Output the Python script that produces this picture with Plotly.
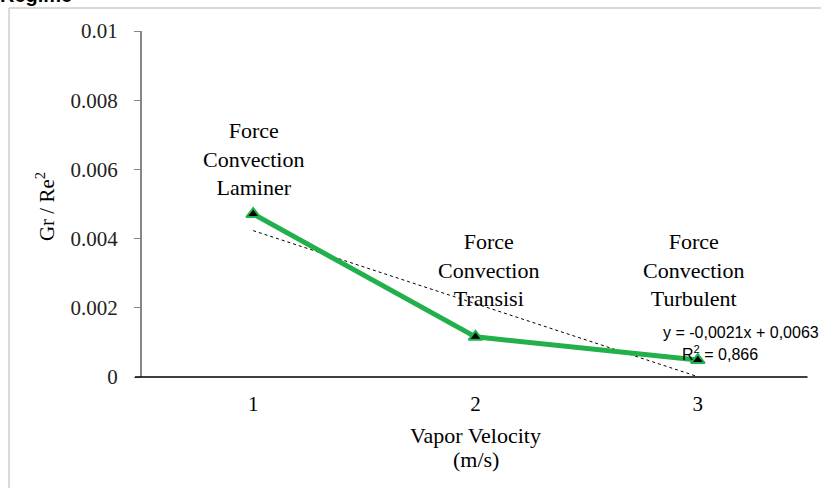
import numpy as np
import plotly.graph_objects as go

# ---- data ----
velocity = [1, 2, 3]
gr_re2 = [0.00471, 0.00116, 0.00049]
y_tick_vals = [0, 0.002, 0.004, 0.006, 0.008, 0.01]
y_tick_text = ["0", "0.002", "0.004", "0.006", "0.008", "0.01"]
x_tick_vals = [1, 2, 3]
x_tick_text = ["1", "2", "3"]
regime_labels = ["Force<br>Convection<br>Laminer",
                 "Force<br>Convection<br>Transisi",
                 "Force<br>Convection<br>Turbulent"]
regime_label_x = [1.0, 2.06, 2.98]
regime_label_y = [0.0063, 0.00309, 0.00309]
equation_text = "y = -0,0021x + 0,0063"
r2_text = "R<sup>2</sup> = 0,866"
x_title_lines = ["Vapor Velocity", "(m/s)"]
y_title = "Gr / Re<sup>2</sup>"

# linear trendline (least squares from the data)
slope, intercept = np.polyfit(velocity, gr_re2, 1)
trend_x = [velocity[0], velocity[-1]]
trend_y = [slope * v + intercept for v in trend_x]

W, H = 821, 488
L, R, T, B = 142, 11.5, 31, 111
PW, PH = W - L - R, H - T - B

def px(x):
    return (x - L) / PW

def py(y):
    return 1 - (y - T) / PH

SERIF = "Liberation Serif, Times New Roman, serif"
SANS = "Liberation Sans, Arial, sans-serif"
GREEN = "#22b04c"

fig = go.Figure()
fig.add_trace(go.Scatter(
    x=trend_x, y=trend_y, mode="lines",
    line=dict(color="black", width=1, dash="3px,3px"),
    hoverinfo="skip", showlegend=False))
fig.add_trace(go.Scatter(
    x=velocity, y=gr_re2, mode="lines+markers",
    line=dict(color=GREEN, width=5),
    marker=dict(symbol="triangle-up", size=12, color="black",
                line=dict(color=GREEN, width=2)),
    showlegend=False))

annotations = []
for t, xv, yv in zip(regime_labels, regime_label_x, regime_label_y):
    annotations.append(dict(x=xv, y=yv, xref="x", yref="y", text=t,
                            showarrow=False, align="center",
                            xanchor="center", yanchor="middle",
                            font=dict(family=SERIF, size=22, color="black")))
for t, yy in zip(x_title_lines, [435, 459]):
    annotations.append(dict(x=px(476), y=py(yy), xref="paper", yref="paper", text=t,
                            showarrow=False, xanchor="center", yanchor="middle",
                            font=dict(family=SERIF, size=22, color="black")))
annotations += [
    dict(x=px(661), y=py(332), xref="paper", yref="paper", text=equation_text,
         xanchor="left", yanchor="middle", showarrow=False,
         font=dict(family=SANS, size=16, color="black")),
    dict(x=px(680), y=py(353), xref="paper", yref="paper", text=r2_text,
         xanchor="left", yanchor="middle", showarrow=False,
         font=dict(family=SANS, size=16, color="black")),
    dict(x=px(45), y=py(207), xref="paper", yref="paper", text=y_title,
         textangle=-90, showarrow=False, xanchor="center", yanchor="middle",
         font=dict(family=SERIF, size=21, color="black")),
    dict(x=px(74), y=py(8), xref="paper", yref="paper", text="<b>Regime</b>",
         xanchor="right", yanchor="bottom", showarrow=False,
         font=dict(family=SANS, size=20, color="black")),
]

shapes = [
    # chart area border (cropped)
    dict(type="line", xref="paper", yref="paper", x0=px(9), x1=px(9), y0=py(8), y1=py(500),
         line=dict(color="#d9d9d9", width=2)),
    dict(type="line", xref="paper", yref="paper", x0=px(9), x1=px(830), y0=py(8), y1=py(8),
         line=dict(color="#d9d9d9", width=2)),
    # x axis line
    dict(type="line", xref="paper", yref="paper", x0=px(135), x1=px(808), y0=0, y1=0,
         line=dict(color="black", width=1.5)),
]

fig.update_layout(
    width=W, height=H,
    margin=dict(l=L, r=R, t=T, b=B),
    paper_bgcolor="white", plot_bgcolor="white",
    xaxis=dict(range=[0.5, 3.5], tickvals=x_tick_vals, ticktext=x_tick_text,
               showgrid=False, zeroline=False, showline=False, ticks="",
               ticklabelstandoff=12,
               tickfont=dict(family=SERIF, size=21, color="black")),
    yaxis=dict(range=[0, 0.01], tickvals=y_tick_vals, ticktext=y_tick_text,
               showgrid=False, zeroline=False, showline=True, linecolor="#868686",
               linewidth=2, ticks="outside", ticklen=6, tickcolor="#868686",
               ticklabelstandoff=12,
               tickfont=dict(family=SERIF, size=21, color="#222222")),
    annotations=annotations, shapes=shapes,
)

fig.write_html("out.html", config={"displayModeBar": False},
               post_script="document.body.style.margin='0px';")
